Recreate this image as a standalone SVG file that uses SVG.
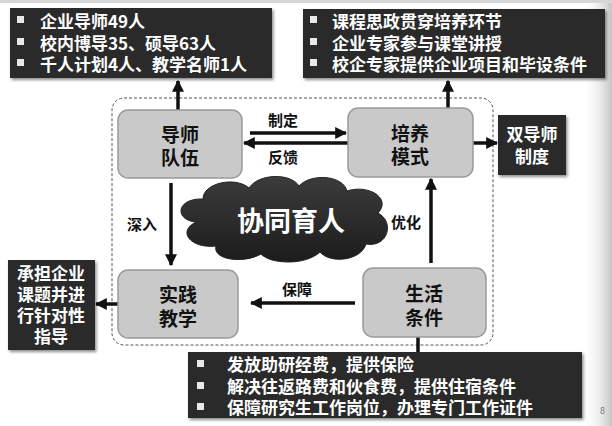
<svg xmlns="http://www.w3.org/2000/svg" width="612" height="426" viewBox="0 0 612 426">
<defs>
<linearGradient id="edge" x1="0" y1="0" x2="1" y2="0">
<stop offset="0" stop-color="#ffffff" stop-opacity="0"/>
<stop offset="1" stop-color="#c4c4c4"/>
</linearGradient>
<linearGradient id="cloudg" x1="0" y1="0" x2="0" y2="1">
<stop offset="0" stop-color="#3c3c3c"/>
<stop offset="1" stop-color="#1c1c1c"/>
</linearGradient>
<filter id="sh" x="-10%" y="-10%" width="125%" height="130%">
<feDropShadow dx="1.5" dy="2" stdDeviation="1.5" flood-color="#000" flood-opacity="0.45"/>
</filter>
<marker id="ah" viewBox="0 0 10 10" refX="9" refY="5" markerWidth="12" markerHeight="12" markerUnits="userSpaceOnUse" orient="auto">
<path d="M0,0 L10,5 L0,10 z" fill="#111"/>
</marker>
</defs>
<style>
text{font-family:"Noto Sans CJK SC","Liberation Sans",sans-serif;font-weight:bold}
.dark{fill:#2c2c2c;filter:url(#sh)}
.wt{fill:#fff;font-size:17px}
.node{fill:#c9c9c9;stroke:#9a9a9a;stroke-width:1.5}
.nt{fill:#111;font-size:19px;text-anchor:middle}
.lb{fill:#111;font-size:15px;text-anchor:middle}
.bul{fill:#e8e8e8}
.ar{stroke:#111;stroke-width:3.5;fill:none}
</style>
<rect width="612" height="426" fill="#ffffff"/>
<rect x="582" y="0" width="30" height="426" fill="url(#edge)"/>
<rect x="0" y="0" width="612" height="3" fill="#d6d6d6"/>

<rect x="112" y="98" width="381" height="247" rx="12" fill="none" stroke="#555" stroke-width="1" stroke-dasharray="3,2"/>

<g id="connectors">
<line class="ar" x1="178" y1="110" x2="178" y2="81" marker-end="url(#ah)"/>
<line class="ar" x1="448" y1="108" x2="448" y2="81" marker-end="url(#ah)"/>
<line class="ar" x1="250" y1="133" x2="346" y2="133" marker-end="url(#ah)"/>
<line class="ar" x1="348" y1="143" x2="244" y2="143" marker-end="url(#ah)"/>
<line class="ar" x1="171" y1="183" x2="171" y2="265" marker-end="url(#ah)"/>
<line class="ar" x1="431" y1="263" x2="431" y2="179" marker-end="url(#ah)"/>
<line class="ar" x1="355" y1="303" x2="251" y2="303" marker-end="url(#ah)"/>
<line class="ar" x1="473" y1="143" x2="497" y2="143" marker-end="url(#ah)"/>
<line class="ar" x1="118" y1="304" x2="96" y2="304" marker-end="url(#ah)"/>
<line class="ar" x1="418" y1="337" x2="418" y2="352"/>
<text class="lb" x="283" y="126">制定</text>
<text class="lb" x="283" y="163">反馈</text>
<text class="lb" x="142" y="230">深入</text>
<text class="lb" x="406" y="228">优化</text>
<text class="lb" x="297" y="295">保障</text>
</g>

<g id="top-left-box">
<rect class="dark" x="10" y="8" width="262" height="70"/>
<rect class="bul" x="17" y="16" width="7" height="7"/>
<rect class="bul" x="17" y="38" width="7" height="7"/>
<rect class="bul" x="17" y="59" width="7" height="7"/>
<text class="wt"><tspan x="40" y="28">企业导师49人</tspan><tspan x="40" y="50">校内博导35、硕导63人</tspan><tspan x="40" y="71">千人计划4人、教学名师1人</tspan></text>
</g>

<g id="top-right-box">
<rect class="dark" x="303" y="9" width="302" height="69"/>
<rect class="bul" x="310" y="16" width="7" height="7"/>
<rect class="bul" x="310" y="38" width="7" height="7"/>
<rect class="bul" x="310" y="59" width="7" height="7"/>
<text class="wt"><tspan x="332" y="28">课程思政贯穿培养环节</tspan><tspan x="332" y="50">企业专家参与课堂讲授</tspan><tspan x="332" y="71">校企专家提供企业项目和毕设条件</tspan></text>
</g>

<g id="node-daoshi">
<rect class="node" x="118" y="110" width="124" height="68" rx="10"/>
<text class="nt"><tspan x="180" y="142">导师</tspan><tspan x="180" y="165">队伍</tspan></text>
</g>

<g id="node-peiyang">
<rect class="node" x="348" y="108" width="125" height="69" rx="10"/>
<text class="nt"><tspan x="410" y="141">培养</tspan><tspan x="410" y="164">模式</tspan></text>
</g>

<g id="node-shijian">
<rect class="node" x="118" y="270" width="120" height="68" rx="10"/>
<text class="nt"><tspan x="178" y="302">实践</tspan><tspan x="178" y="326">教学</tspan></text>
</g>

<g id="node-shenghuo">
<rect class="node" x="363" y="268" width="123" height="69" rx="10"/>
<text class="nt"><tspan x="424" y="301">生活</tspan><tspan x="424" y="325">条件</tspan></text>
</g>

<g id="cloud">
<path d="M196 222 C174 220,176 198,203 199 C203 183,235 176,249 188 C259 173,291 173,299 186 C311 173,343 175,347 191 C368 184,392 198,378 213 C395 222,388 248,366 244 C361 261,330 264,320 252 C305 266,270 264,261 254 C244 264,212 260,216 246 C192 249,176 232,196 222 Z" fill="url(#cloudg)" stroke="#222" stroke-width="1"/>
<text x="291" y="231" fill="#fff" font-size="27" text-anchor="middle">协同育人</text>
</g>

<g id="box-shuangdaoshi">
<rect class="dark" x="498" y="115" width="68" height="60"/>
<text class="wt" text-anchor="middle"><tspan x="532" y="141">双导师</tspan><tspan x="532" y="163">制度</tspan></text>
</g>

<g id="box-chengdan">
<rect class="dark" x="8" y="260" width="87" height="90"/>
<text class="wt" text-anchor="middle"><tspan x="51" y="280">承担企业</tspan><tspan x="51" y="301">课题并进</tspan><tspan x="51" y="322">行针对性</tspan><tspan x="51" y="343">指导</tspan></text>
</g>

<g id="bottom-box">
<rect class="dark" x="188" y="352" width="394" height="66"/>
<rect class="bul" x="197" y="360" width="7" height="7"/>
<rect class="bul" x="197" y="382" width="7" height="7"/>
<rect class="bul" x="197" y="403" width="7" height="7"/>
<text class="wt"><tspan x="227" y="371">发放助研经费，提供保险</tspan><tspan x="227" y="393">解决往返路费和伙食费，提供住宿条件</tspan><tspan x="227" y="414">保障研究生工作岗位，办理专门工作证件</tspan></text>
</g>

<text x="600" y="414" fill="#777" font-size="9" style="font-weight:normal">8</text>
</svg>
